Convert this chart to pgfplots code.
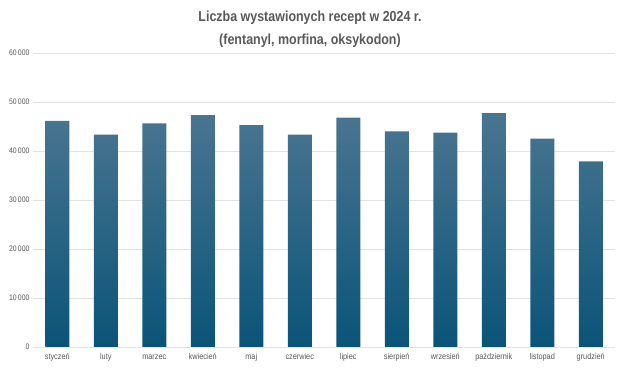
\documentclass[border=0pt]{standalone}
\usepackage{pgfplots}
\pgfplotsset{compat=1.18}
\usepackage{fontspec}
\setmainfont[FakeStretch=0.86]{Liberation Sans}
\definecolor{txt}{HTML}{595959}
\definecolor{gridc}{HTML}{E3E3E3}
\definecolor{bartop}{HTML}{4A7590}
\definecolor{barbot}{HTML}{0A5478}
\begin{document}
\begin{tikzpicture}
\path[use as bounding box] (0,0) rectangle (620pt,371pt);
\begin{axis}[
  at={(33pt,24pt)}, anchor=south west,
  scale only axis, width=582pt, height=294pt,
  ymin=0, ymax=60000, ytick={0,10000,...,60000},
  xmin=-0.5, xmax=11.5, xtick={0,...,11},
  xticklabels={styczeń,luty,marzec,kwiecień,maj,czerwiec,lipiec,sierpień,wrzesień,październik,listopad,grudzień},
  ybar, bar width=24pt,
  axis x line*=bottom, axis y line*=left,
  y axis line style={draw=none},
  x axis line style={draw=gridc, line width=0.8pt},
  major tick length=0pt,
  ymajorgrids, grid style={draw=gridc, line width=0.6pt},
  enlargelimits=false,
  scaled y ticks=false,
  xticklabel style={font=\fontsize{8.5}{10}\selectfont, text=txt, text height=1.6ex, text depth=0.3ex, yshift=-1pt},
  yticklabel style={font=\fontsize{8}{10}\selectfont, text=txt},
  /pgf/number format/.cd, 1000 sep={\,}, assume math mode=true,
]
\addplot[draw=none, top color=bartop, bottom color=barbot] coordinates {
 (0,46150) (1,43350) (2,45650) (3,47300) (4,45300) (5,43350)
 (6,46800) (7,44000) (8,43750) (9,47750) (10,42550) (11,37900)};
\end{axis}
\node[font=\bfseries\fontsize{14.5}{17}\selectfont, text=txt, align=center] at (310pt,342pt)
 {Liczba wystawionych recept w 2024 r.\\[6pt](fentanyl, morfina, oksykodon)};
\end{tikzpicture}
\end{document}
